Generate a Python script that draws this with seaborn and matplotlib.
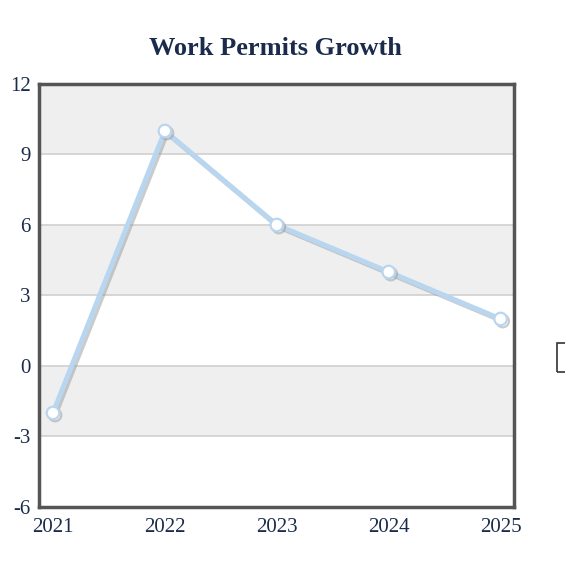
import matplotlib
matplotlib.use("Agg")
import matplotlib.pyplot as plt
import matplotlib.patheffects as pe
from matplotlib.patches import Rectangle
import pandas as pd
import seaborn as sns

years = [2021, 2022, 2023, 2024, 2025]
growth = [-2, 10, 6, 4, 2]
yticks = [-6, -3, 0, 3, 6, 9, 12]

df = pd.DataFrame({'year': years, 'growth': growth})

sns.set_style("white")
plt.rcParams['font.family'] = ['Liberation Serif', 'DejaVu Serif']
plt.rcParams['axes.unicode_minus'] = False

fig = plt.figure(figsize=(5.65, 5.61), dpi=100)
ax = fig.add_axes([0.0690, 0.0963, 0.840, 0.754])

# alternating bands
for i, lo in enumerate(yticks[:-1]):
    if i % 2 == 1:
        ax.axhspan(lo, lo + 3, color='#efefef', zorder=0, lw=0)
for t in yticks[1:-1]:
    ax.axhline(t, color='#d0d0d0', lw=1.2, zorder=1)

sns.lineplot(x='year', y='growth', data=df, ax=ax, color='#b9d6f0', lw=3.6,
             marker='o', markersize=9, markerfacecolor='white',
             markeredgecolor='#b9d6f0', markeredgewidth=1.6, zorder=3,
             path_effects=[pe.SimpleLineShadow(offset=(1.5, -1.5), shadow_color='#999999', alpha=0.5),
                           pe.Normal()])

ax.set_xlim(2020.875, 2025.116)
ax.set_ylim(-6, 12)
ax.set_yticks(yticks)
ax.set_xticks(years)
ax.set_xticklabels([str(y) for y in years])
ax.tick_params(length=0, labelsize=15, colors='#1b2b4b')
ax.tick_params(axis='x', pad=8)
ax.tick_params(axis='y', pad=6)
ax.set_xlabel('')
ax.set_ylabel('')
for s in ax.spines.values():
    s.set_color('#555555')
    s.set_linewidth(2.5)

fig.text(0.488, 0.914, 'Work Permits Growth', ha='center', va='center',
         fontsize=19, fontweight='bold', color='#1b2b4b')

# clipped legend box at the right edge
fig.patches.append(Rectangle((557 / 565, 1 - 372 / 561), 0.03, 29 / 561,
                             transform=fig.transFigure, fill=False,
                             edgecolor='#333333', lw=1.2))

fig.savefig('out.png', dpi=100)
